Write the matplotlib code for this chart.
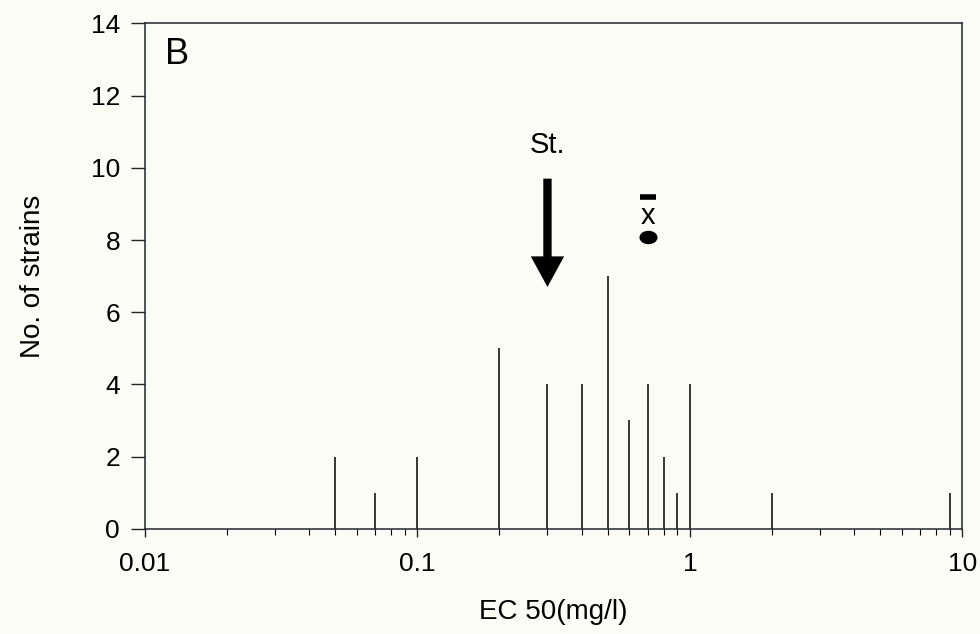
import numpy as np
import matplotlib
matplotlib.use('Agg')
import matplotlib.pyplot as plt
from matplotlib.path import Path
from matplotlib.patches import FancyArrowPatch
from matplotlib.transforms import Affine2D

plt.rcParams['font.family'] = 'Liberation Sans'

# EC50 values (mg/l) and number of strains
ec50 = [0.05, 0.07, 0.1, 0.2, 0.3, 0.4, 0.5, 0.6, 0.7, 0.8, 0.9, 1, 2, 9]
strains = [2, 1, 2, 5, 4, 4, 7, 3, 4, 2, 1, 4, 1, 1]

# standard strain arrow and mean marker
st_x = 0.3
st_from = 9.7
st_to = 6.7
st_label_y = 10.4
mean_x = 0.7
mean_y = 8.07
xbar_y = 8.45
xbar_line_y = 9.2

xticks = [0.01, 0.1, 1, 10]
xticklabels = ['0.01', '0.1', '1', '10']
yticks = [0, 2, 4, 6, 8, 10, 12, 14]

bg = '#fcfcf7'
fig = plt.figure(figsize=(9.8, 6.34), dpi=100, facecolor=bg)
ax = fig.add_axes([0.148, 0.166, 0.834, 0.797])
ax.set_facecolor(bg)

ax.vlines(ec50, 0, strains, color='black', lw=1.1)

ax.set_xscale('log')
ax.set_xlim(0.01, 10)
ax.set_ylim(0, 14)
ax.set_xticks(xticks)
ax.set_xticklabels(xticklabels)
ax.set_yticks(yticks)
ax.tick_params(axis='both', labelsize=19, direction='out', color='#222222')
ax.tick_params(axis='y', length=10, width=1, pad=8)
ax.tick_params(axis='x', which='major', length=6, width=1, pad=11)
ax.tick_params(axis='x', which='minor', length=4, width=0.8)
for s in ax.spines.values():
    s.set_color('#1f2630')
    s.set_linewidth(1.1)

ax.set_xlabel('EC 50(mg/l)', fontsize=20, labelpad=16)
ax.set_ylabel('No. of strains', fontsize=20, labelpad=32)

ax.text(0.024, 0.92, 'B', transform=ax.transAxes, fontsize=26)

# arrow for standard strain
arr = FancyArrowPatch((st_x, st_from), (st_x, st_to),
                      arrowstyle='simple,head_length=1.1,head_width=1.2,tail_width=0.3',
                      mutation_scale=20, color='black', lw=0, shrinkA=0, shrinkB=0)
ax.add_patch(arr)
ax.text(st_x, st_label_y, 'St.', fontsize=21, ha='center', va='baseline')

# mean marker (flattened dot) with x-bar label
ell = Path.unit_circle().transformed(Affine2D().scale(1.0, 0.72))
ax.plot([mean_x], [mean_y], marker=ell, markersize=12, color='black', ls='none')
ax.text(mean_x, xbar_y, 'x', fontsize=21, ha='center', va='baseline')
ax.plot([mean_x], [xbar_line_y], marker='_', markersize=11, mew=4,
        color='black', ls='none')

fig.savefig('out.png', dpi=100, facecolor=bg)
